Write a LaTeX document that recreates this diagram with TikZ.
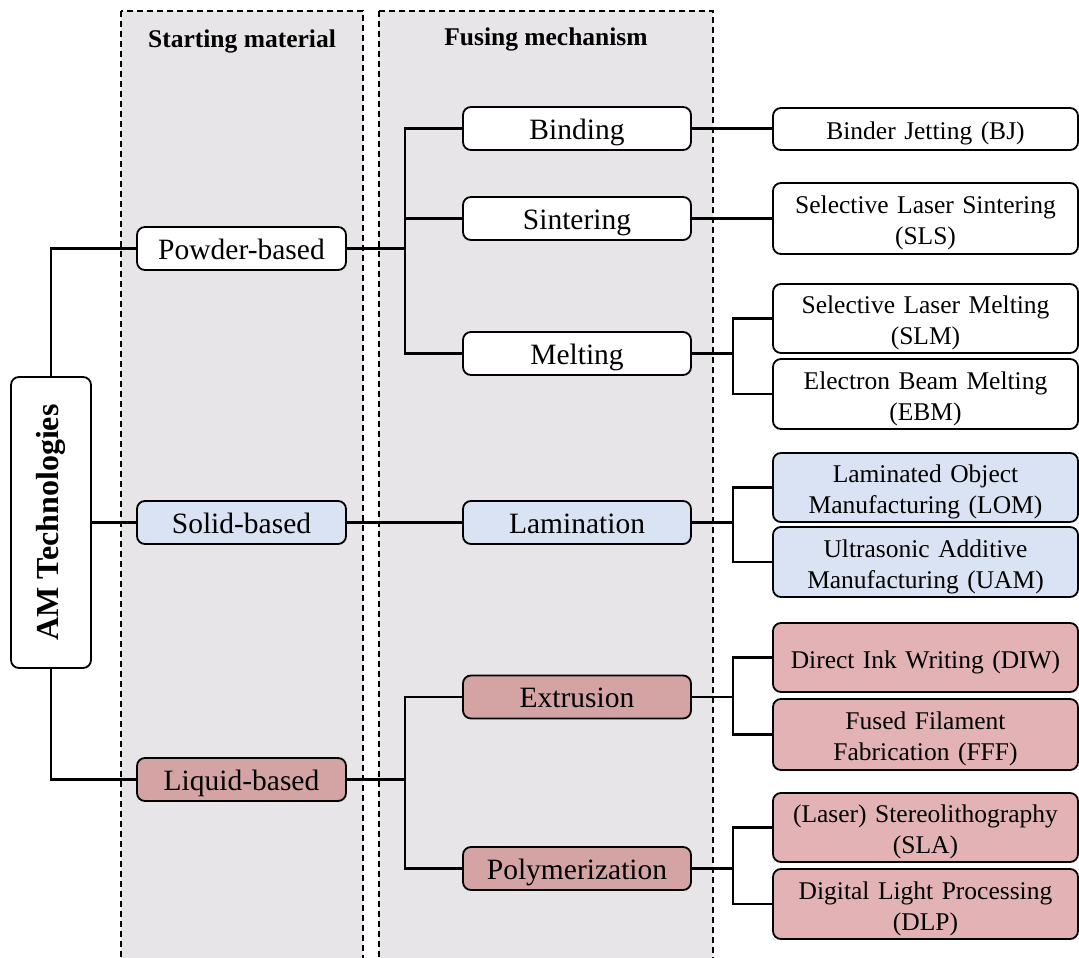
\documentclass[tikz,border=0pt]{standalone}
\usepackage{fontspec}
\usepackage{graphicx}
\setmainfont{Liberation Serif}
\definecolor{panelgray}{HTML}{E7E5E7}
\definecolor{solidblue}{HTML}{DAE3F3}
\definecolor{liqdark}{HTML}{D4A4A5}
\definecolor{liqlight}{HTML}{E3B2B4}
\tikzset{
  box/.style={draw=black, line width=1.8pt, rounded corners=8pt, inner sep=0pt, align=center},
  lvone/.style={box, minimum width=209pt, minimum height=43pt, text height=21pt, text depth=0pt, font=\fontsize{29.5}{34}\selectfont},
  lvtwo/.style={box, minimum width=228pt, minimum height=43pt, text height=21pt, text depth=0pt, font=\fontsize{29.5}{34}\selectfont},
  lvthree/.style={box, minimum width=305pt, text width=300pt, font=\fontsize{25.5}{31}\selectfont},
  oneline/.style={lvthree, text height=21pt, text depth=0pt},
  twoline/.style={lvthree, text height=21pt, text depth=30.5pt},
  link/.style={line width=2.4pt},
  panel/.style={draw=black, line width=1.3pt, dash pattern=on 6pt off 4pt, fill=panelgray},
  header/.style={font=\fontsize{25.5}{30}\selectfont\bfseries, inner sep=0pt}
}
\begin{document}
\begin{tikzpicture}[x=1pt, y=-1pt]
\useasboundingbox (0,0) rectangle (1079,958);
\clip (0,0) rectangle (1079,958);
\fill[white] (0,0) rectangle (1079,958);
% panels
\draw[panel] (121,11) rectangle (363,975);
\draw[panel] (379,11) rectangle (713,975);
\node[header] (h1) at (242,41) {Starting material};
\node[header] (h2) at (546,39) {Fusing mechanism};
% root
\node[box, fill=white, minimum width=80pt, minimum height=291pt] (am) at (51,522.5)
  {\rotatebox{90}{\fontsize{32}{36}\selectfont\bfseries AM Technologies}};
% level 1
\node[lvone, fill=white] (powder) at (241.5,248.5) {Powder-based};
\node[lvone, fill=solidblue] (solid) at (241.5,522.5) {Solid-based};
\node[lvone, fill=liqdark] (liquid) at (241.5,779.5) {Liquid-based};
% level 2
\node[lvtwo, fill=white] (binding) at (577,128.5) {Binding};
\node[lvtwo, fill=white] (sintering) at (577,218.5) {Sintering};
\node[lvtwo, fill=white] (melting) at (577,353.5) {Melting};
\node[lvtwo, fill=solidblue] (lamination) at (577,522.5) {Lamination};
\node[lvtwo, fill=liqdark] (extrusion) at (577,697) {Extrusion};
\node[lvtwo, fill=liqdark] (polymer) at (577,868.5) {Polymerization};
% level 3
\node[oneline, fill=white, minimum height=42pt] (bj) at (925.5,129) {Binder Jetting (BJ)};
\node[twoline, fill=white, minimum height=71pt] (sls) at (925.5,218.5) {Selective Laser Sintering\\(SLS)};
\node[twoline, fill=white, minimum height=69pt] (slm) at (925.5,318.5) {Selective Laser Melting\\(SLM)};
\node[twoline, fill=white, minimum height=70pt] (ebm) at (925.5,394) {Electron Beam Melting\\(EBM)};
\node[twoline, fill=solidblue, minimum height=69pt] (lom) at (925.5,487.5) {Laminated Object\\Manufacturing (LOM)};
\node[twoline, fill=solidblue, minimum height=70pt] (uam) at (925.5,562) {Ultrasonic Additive\\Manufacturing (UAM)};
\node[oneline, fill=liqlight, minimum height=69pt] (diw) at (925.5,657.5) {Direct Ink Writing (DIW)};
\node[twoline, fill=liqlight, minimum height=71pt] (fff) at (925.5,734.5) {Fused Filament\\Fabrication (FFF)};
\node[twoline, fill=liqlight, minimum height=69pt] (sla) at (925.5,827.5) {(Laser) Stereolithography\\(SLA)};
\node[twoline, fill=liqlight, minimum height=70pt] (dlp) at (925.5,904) {Digital Light Processing\\(DLP)};
% branch points
\coordinate (bp) at (405,248.5);
\coordinate (bl) at (405,779.5);
\coordinate (bm) at (733,353.5);
\coordinate (bla) at (733,522.5);
\coordinate (be) at (733,697);
\coordinate (bpo) at (733,868.5);
% connectors
\draw[link] (am.north) |- (powder.west);
\draw[link] (am.east) -- (solid.west);
\draw[link] (am.south) |- (liquid.west);
\draw[link] (powder.east) -- (bp);
\draw[link] (binding.west) -| (bp |- melting.west) -- (melting.west);
\draw[link] (bp |- sintering.west) -- (sintering.west);
\draw[link] (solid.east) -- (lamination.west);
\draw[link] (liquid.east) -- (bl);
\draw[link] (extrusion.west) -| (bl |- polymer.west) -- (polymer.west);
\draw[link] (binding.east) -- (bj.west |- binding.east);
\draw[link] (sintering.east) -- (sls.west |- sintering.east);
\draw[link] (melting.east) -- (bm);
\draw[link] (slm.west) -| (bm |- ebm.west) -- (ebm.west);
\draw[link] (lamination.east) -- (bla);
\draw[link] (lom.west) -| (bla |- uam.west) -- (uam.west);
\draw[link] (extrusion.east) -- (be);
\draw[link] (diw.west) -| (be |- fff.west) -- (fff.west);
\draw[link] (polymer.east) -- (bpo);
\draw[link] (sla.west) -| (bpo |- dlp.west) -- (dlp.west);
\end{tikzpicture}
\end{document}
